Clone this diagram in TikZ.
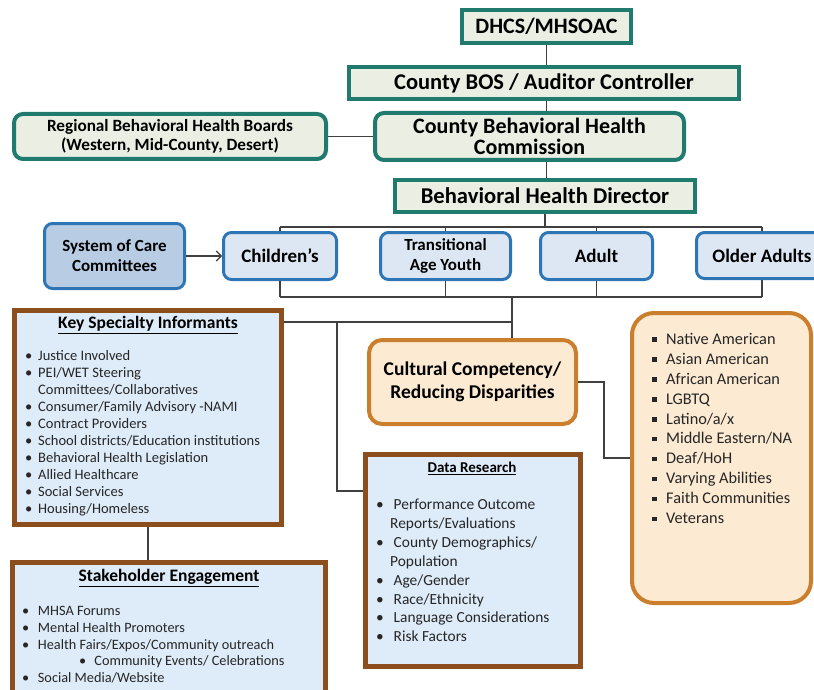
\documentclass[tikz,border=0pt]{standalone}
\usepackage{fontspec}
\setmainfont{Carlito}
\usetikzlibrary{arrows.meta}

\definecolor{tealline}{RGB}{32,122,110}
\definecolor{tealfill}{RGB}{234,238,227}
\definecolor{blueline}{RGB}{46,117,182}
\definecolor{bluefill}{RGB}{221,231,244}
\definecolor{socfill}{RGB}{184,204,228}
\definecolor{orangeline}{RGB}{203,126,44}
\definecolor{orangefill}{RGB}{252,234,210}
\definecolor{brownline}{RGB}{139,78,28}
\definecolor{brownfill}{RGB}{222,235,248}
\definecolor{linkgray}{RGB}{64,64,64}

\newcommand\bl[1][13pt]{\makebox[#1][l]{\textbullet}}
\newcommand\sqb{\makebox[14pt][l]{\raisebox{2.5pt}{\rule{4.5pt}{4.5pt}}}}

\begin{document}
\begin{tikzpicture}[x=1pt,y=1pt,yscale=-1,
  topbox/.style={draw=tealline, fill=tealfill, line width=4pt, align=center, inner sep=0pt,
    font=\bfseries\fontsize{22}{21}\selectfont},
  toprnd/.style={topbox, rounded corners=9pt},
  agebox/.style={draw=blueline, fill=bluefill, line width=3pt, rounded corners=8pt, align=center,
    inner sep=0pt, minimum height=47pt, font=\bfseries\fontsize{19}{20}\selectfont},
  infobox/.style={draw=brownline, fill=brownfill, line width=5pt, inner sep=0pt},
  head/.style={font=\bfseries\fontsize{17.5}{20}\selectfont},
  list/.style={anchor=north west, inner sep=0pt, align=left, text=black!85},
  link/.style={draw=linkgray, line width=1.2pt}]
\useasboundingbox (0,0) rectangle (814,690);
\clip (0,0) rectangle (814,690);

%Top of the chart
\node[topbox, minimum width=169pt, minimum height=33pt] (dhcs) at (546.5,26.5) {DHCS/MHSOAC};
\node[topbox, minimum width=390pt, minimum height=32pt, font=\bfseries\fontsize{22.5}{21}\selectfont] (bos) at (544,83) {County BOS / Auditor Controller};
\node[toprnd, minimum width=312pt, minimum height=45pt, font=\bfseries\fontsize{17.2}{19}\selectfont] (regional) at (170,136.5) {Regional Behavioral Health Boards\\(Western, Mid-County, Desert)};
\node[toprnd, minimum width=309pt, minimum height=47pt] (comm) at (529.5,136.5) {County Behavioral Health\\Commission};
\node[topbox, minimum width=300pt, minimum height=32pt, font=\bfseries\fontsize{22.6}{21}\selectfont] (dir) at (545,196) {Behavioral Health Director};

%Age groups
\node[agebox, fill=socfill, minimum width=140pt, minimum height=65pt, font=\bfseries\fontsize{17}{20}\selectfont] (soc) at (114.5,256) {System of Care\\Committees};
\node[agebox, minimum width=113pt] (child) at (280,256) {Children's};
\node[agebox, minimum width=130pt, font=\bfseries\fontsize{17}{20}\selectfont] (tay) at (445.5,256) {Transitional\\Age Youth};
\node[agebox, minimum width=112pt] (adult) at (596.5,256) {Adult};
\node[agebox, minimum width=131pt, minimum height=46pt] (older) at (762,255.5) {Older Adults};

%Cultural Competency
\node[draw=orangeline, fill=orangefill, line width=4pt, rounded corners=13pt, inner sep=0pt,
  minimum width=207pt, minimum height=84pt, align=center, font=\bfseries\fontsize{19.5}{23}\selectfont] (cult) at (472.5,382) {Cultural Competency/\\Reducing Disparities};
\node[draw=orangeline, fill=orangefill, line width=4pt, rounded corners=22pt, inner sep=0pt,
  minimum width=179pt, minimum height=290pt] (groups) at (721.5,458) {};
\node[list, font=\fontsize{16.3}{19.9}\selectfont] (grouplist) at (652,333) {\sqb Native American\\ \sqb Asian American\\ \sqb African American\\ \sqb LGBTQ\\ \sqb Latino/a/x\\ \sqb Middle Eastern/NA\\ \sqb Deaf/HoH\\ \sqb Varying Abilities\\ \sqb Faith Communities\\ \sqb Veterans};

%Key Specialty Informants
\node[infobox, minimum width=267pt, minimum height=214pt] (key) at (148,417.5) {};
\node[head] (keyhead) at (148,325) {\underline{Key Specialty Informants}};
\node[list, font=\fontsize{14.5}{17}\selectfont] (keylist) at (25,350.5) {\bl Justice Involved\\ \bl PEI/WET Steering\\ \hspace*{13pt}Committees/Collaboratives\\ \bl Consumer/Family Advisory -NAMI\\ \bl Contract Providers\\ \bl School districts/Education institutions\\ \bl Behavioral Health Legislation\\ \bl Allied Healthcare\\ \bl Social Services\\ \bl Housing/Homeless};

%Data Research
\node[infobox, minimum width=215pt, minimum height=212pt] (data) at (473,560.5) {};
\node[head, font=\bfseries\fontsize{15}{18}\selectfont] (datahead) at (472,468) {\underline{Data Research}};
\node[list, font=\fontsize{15.4}{18.86}\selectfont] (datalist) at (376,499) {\bl[14pt] Performance Outcome\\ \hspace*{14pt}Reports/Evaluations\\ \bl[14pt] County Demographics/\\ \hspace*{14pt}Population\\ \bl[14pt] Age/Gender\\ \bl[14pt] Race/Ethnicity\\ \bl[14pt] Language Considerations\\ \bl[14pt] Risk Factors};

%Stakeholder Engagement
\node[infobox, minimum width=313pt, minimum height=139pt] (stake) at (169,632) {};
\node[head] (stakehead) at (169,578) {\underline{Stakeholder Engagement}};
\node[list, font=\fontsize{14.3}{16.8}\selectfont] (stakelist) at (22,606) {\bl[12.5pt] MHSA Forums\\ \bl[12.5pt] Mental Health Promoters\\ \bl[12.5pt] Health Fairs/Expos/Community outreach\\ \hspace*{57pt}\bl[12pt] Community Events/ Celebrations\\ \bl[12.5pt] Social Media/Website};

%Straight Lines
\coordinate (topbar) at (545,227);
\coordinate (botbar) at (545,297);
\coordinate (midbar) at (512,322);
\coordinate (datajog) at (337,322);
\path (data.north west) ++(0,39) coordinate (datain);

\draw[link] (dhcs.south) -- (dhcs.south |- bos.north);
\draw[link] (dhcs.south |- bos.south) -- (dhcs.south |- comm.north);
\draw[link] (dhcs.south |- comm.south) -- (dhcs.south |- dir.north);
\draw[link] (regional.east) -- (comm.west);
\draw[link] (dir.south) -- (dir.south |- topbar);
\draw[link] (child.north |- topbar) -- (older.north |- topbar);
\draw[link] (child.south |- botbar) -- (older.south |- botbar);
\foreach \grp in {child,tay,adult,older}{
  \draw[link] (\grp.north |- topbar) -- (\grp.north);
  \draw[link] (\grp.south) -- (\grp.south |- botbar);
}
\draw[link,-{Straight Barb[length=5pt,width=10pt]}] (soc.east) -- (child.west);
\draw[link] (tay.south east |- botbar) -- (tay.south east |- cult.north);
\draw[link] (key.east |- midbar) -- (midbar);
\draw[link] (datajog) |- (datain);
\draw[link] (cult.east) -- ++(26,0) |- (groups.west);
\draw[link] (key.south) -- (key.south |- stake.north);

\end{tikzpicture}
\end{document}
